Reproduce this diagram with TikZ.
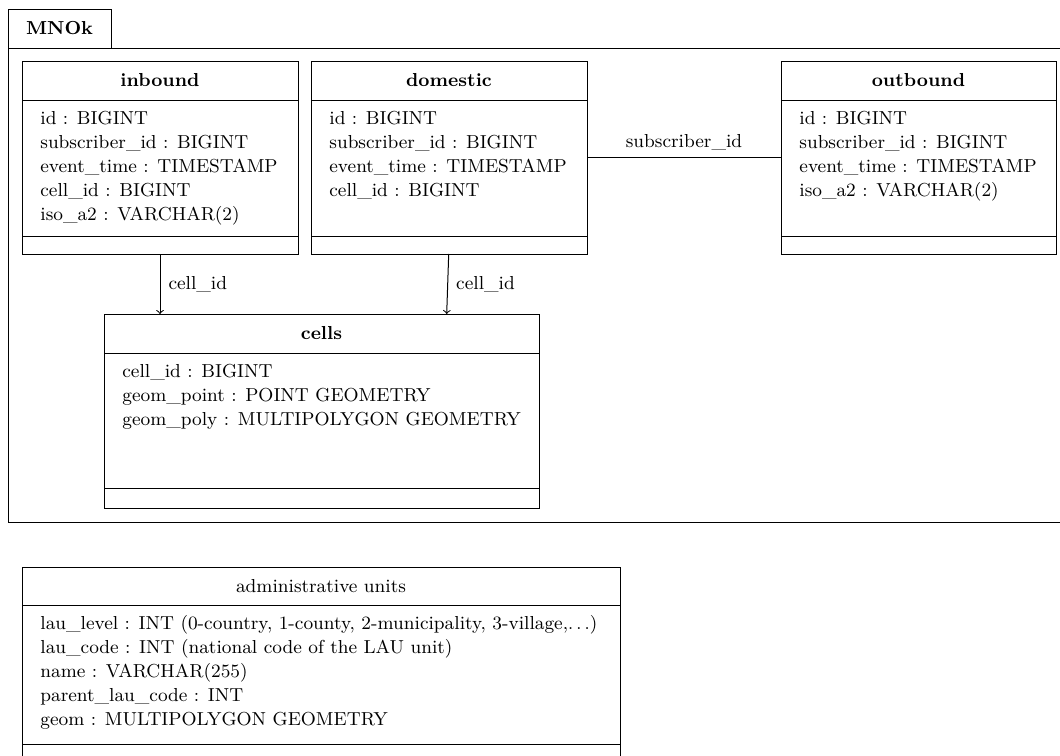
\documentclass[tikz,border=0pt]{standalone}
\usetikzlibrary{fit}
\newcommand\umlclass[9]{%
  \node[draw, fit={(#2,#3)(#4,#5)}, inner sep=0pt, line width=0.5pt] (#1) {};
  \draw[line width=0.5pt] (#2,#6) -- (#4,#6) (#2,#7) -- (#4,#7);
  \node[inner sep=0pt] (#1-title) at ({(#2+#4)/2},{(#3+#6)/2}) {#8};
  \foreach \t [count=\i] in {#9}
    \node[anchor=base west, inner sep=0pt] (#1-f\i) at (#2+18, #6+0.5+24*\i) {\t};
}
\begin{document}
\begin{tikzpicture}[x=0.5pt, y=-0.5pt, font=\fontsize{9.4}{12}\selectfont,
  conn/.style={line width=0.5pt},
  lbl/.style={inner sep=0pt}]
\useasboundingbox (0,0) rectangle (1060,755);
\clip (0,0) rectangle (1060,755);
% package frame
\node[draw, fit={(8,48)(1080,522)}, inner sep=0pt, line width=0.5pt] (mnok) {};
\node[draw, fit={(8,9)(111,48)}, inner sep=0pt, line width=0.5pt] (mnoktab) {};
\node[font=\fontsize{9.4}{12}\selectfont\bfseries] (mnoktitle) at (mnoktab.center) {MNOk};
% classes
\umlclass{inbound}{22}{61}{298}{254}{100}{236}{\textbf{inbound}}%
  {id : BIGINT, subscriber\_id : BIGINT, event\_time : TIMESTAMP, cell\_id : BIGINT, iso\_a2 : VARCHAR(2)}
\umlclass{domestic}{311}{61}{587}{254}{100}{236}{\textbf{domestic}}%
  {id : BIGINT, subscriber\_id : BIGINT, event\_time : TIMESTAMP, cell\_id : BIGINT}
\umlclass{outbound}{781}{61}{1056}{254}{100}{236}{\textbf{outbound}}%
  {id : BIGINT, subscriber\_id : BIGINT, event\_time : TIMESTAMP, iso\_a2 : VARCHAR(2)}
\umlclass{cells}{104}{314}{539}{508}{353}{488}{\textbf{cells}}%
  {cell\_id : BIGINT, geom\_point : POINT GEOMETRY, geom\_poly : MULTIPOLYGON GEOMETRY}
\umlclass{admin}{22}{567}{620}{780}{605}{744}{administrative units}%
  {{lau\_level : INT (0-country, 1-county, 2-municipality, 3-village,$\ldots$)},
   {lau\_code : INT (national code of the LAU unit)},
   {name : VARCHAR(255)},
   {parent\_lau\_code : INT},
   {geom : MULTIPOLYGON GEOMETRY}}
% connectors
\coordinate (c1) at (160,314);
\coordinate (d1) at (448.7,254);
\coordinate (c2) at (446.7,314);
\draw[conn] (domestic.east) -- (outbound.west)
  node[midway, above=3.5pt, lbl] (lsub) {subscriber\_id};
\draw[conn, ->] (inbound.south) -- (c1)
  node[midway, right=4pt, lbl] (lc1) {cell\_id};
\draw[conn, ->] (d1) -- (c2)
  node[midway, right=4pt, lbl] (lc2) {cell\_id};
\end{tikzpicture}
\end{document}
